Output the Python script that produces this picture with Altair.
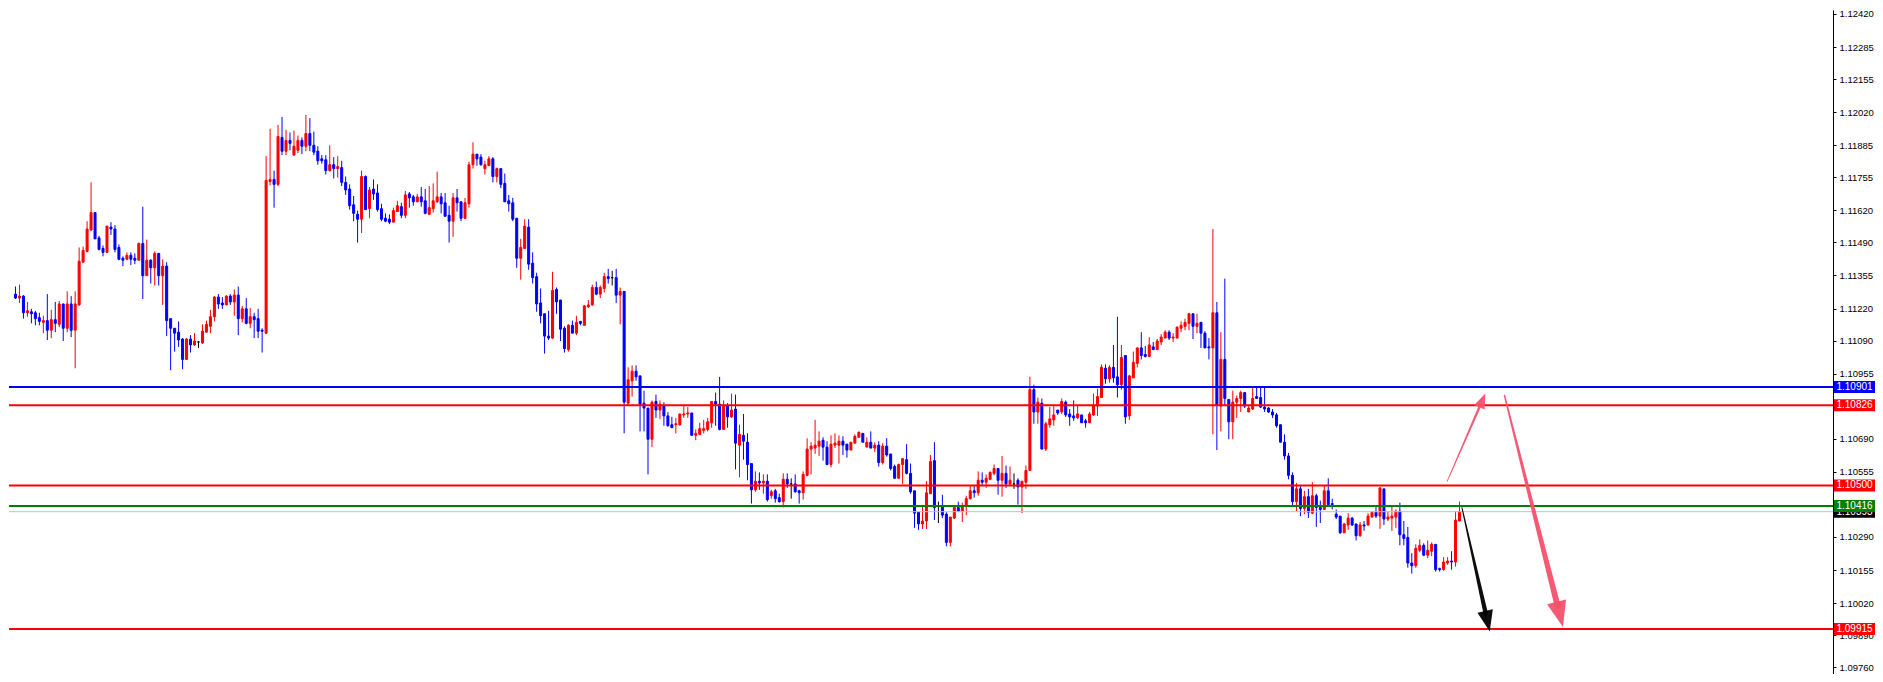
import math
import altair as alt
import numpy as np
import pandas as pd

# ---- candle data, prices in points (1e-5) ----
OPEN = [
111279, 111263, 111271, 111203, 111207, 111203, 111183, 111164, 111171, 111132,
111175, 111156, 111239, 111140, 111239, 111132, 111235, 111409, 111453, 111540,
111611, 111508, 111465, 111449, 111552, 111544, 111469, 111425, 111421, 111437,
111425, 111417, 111485, 111354, 111417, 111386, 111445, 111354, 111393, 111179,
111140, 111124, 111096, 111013, 111096, 111072, 111084, 111080, 111124, 111148,
111187, 111267, 111243, 111235, 111271, 111247, 111275, 111179, 111219, 111160,
111187, 111179, 111132, 111120, 111738, 111746, 111726, 111917, 111861, 111905,
111845, 111865, 111905, 111881, 111933, 111885, 111861, 111830, 111826, 111782,
111806, 111790, 111794, 111734, 111707, 111643, 111604, 111584, 111758, 111627,
111707, 111691, 111627, 111588, 111584, 111572, 111615, 111635, 111600, 111687,
111675, 111655, 111675, 111659, 111604, 111627, 111655, 111675, 111651, 111600,
111576, 111671, 111655, 111588, 111647, 111806, 111849, 111837, 111790, 111802,
111830, 111758, 111790, 111730, 111659, 111651, 111588, 111425, 111465, 111552,
111405, 111350, 111243, 111199, 111108, 111100, 111298, 111255, 111140, 111053,
111152, 111120, 111168, 111152, 111227, 111235, 111306, 111279, 111302, 111350,
111346, 111346, 111275, 111290, 110835, 110926, 110965, 110946, 110835, 110815,
110688, 110842, 110807, 110823, 110783, 110747, 110747, 110747, 110787, 110791,
110795, 110704, 110708, 110724, 110728, 110755, 110842, 110831, 110728, 110823,
110779, 110811, 110664, 110704, 110676, 110589, 110482, 110517, 110510, 110517,
110458, 110478, 110450, 110434, 110525, 110506, 110506, 110478, 110470, 110541,
110648, 110652, 110660, 110684, 110656, 110585, 110664, 110664, 110680, 110668,
110644, 110672, 110696, 110712, 110656, 110676, 110652, 110664, 110593, 110660,
110628, 110577, 110529, 110585, 110605, 110549, 110478, 110391, 110343, 110355,
110466, 110601, 110414, 110418, 110383, 110268, 110367, 110410, 110395, 110418,
110446, 110478, 110470, 110521, 110513, 110525, 110549, 110569, 110521, 110549,
110506, 110506, 110521, 110494, 110513, 110561, 110890, 110799, 110835, 110648,
110747, 110767, 110807, 110799, 110839, 110791, 110783, 110775, 110787, 110763,
110755, 110787, 110823, 110858, 110977, 110934, 110981, 110942, 110910, 111029,
110783, 110938, 110997, 111060, 111033, 111025, 111064, 111053, 111084, 111100,
111124, 111100, 111100, 111140, 111148, 111160, 111199, 111148, 111164, 111120,
111064, 111060, 111203, 110823, 111013, 110850, 110759, 110839, 110854, 110878,
110799, 110811, 110862, 110858, 110819, 110815, 110799, 110787, 110747, 110676,
110620, 110541, 110434, 110486, 110406, 110454, 110387, 110458, 110410, 110402,
110478, 110426, 110383, 110375, 110307, 110339, 110367, 110343, 110295, 110339,
110339, 110371, 110391, 110375, 110486, 110363, 110367, 110371, 110395, 110299,
110288, 110184, 110173, 110236, 110256, 110216, 110232, 110260, 110161, 110157,
110184, 110192, 110188, 110355,
]

HIGH = [
111310, 111318, 111275, 111247, 111219, 111211, 111203, 111191, 111279, 111215,
111247, 111251, 111239, 111290, 111271, 111290, 111469, 111473, 111576, 111734,
111611, 111516, 111477, 111556, 111572, 111560, 111481, 111433, 111449, 111449,
111445, 111489, 111635, 111501, 111421, 111453, 111445, 111421, 111409, 111179,
111140, 111168, 111100, 111100, 111112, 111120, 111088, 111156, 111171, 111215,
111271, 111279, 111267, 111275, 111279, 111298, 111310, 111231, 111263, 111223,
111203, 111219, 111140, 111841, 111952, 111782, 111968, 112000, 111948, 111937,
111945, 111925, 111917, 112008, 111996, 111941, 111881, 111845, 111845, 111885,
111837, 111841, 111822, 111758, 111726, 111679, 111619, 111782, 111762, 111715,
111746, 111726, 111647, 111608, 111604, 111631, 111659, 111651, 111699, 111695,
111683, 111687, 111715, 111707, 111719, 111730, 111778, 111691, 111691, 111639,
111691, 111707, 111655, 111671, 111818, 111897, 111849, 111849, 111822, 111841,
111837, 111794, 111790, 111770, 111683, 111671, 111588, 111504, 111584, 111584,
111449, 111366, 111302, 111199, 111211, 111370, 111306, 111255, 111148, 111156,
111171, 111191, 111168, 111235, 111255, 111318, 111330, 111314, 111366, 111382,
111374, 111382, 111306, 111290, 110981, 110989, 110989, 110946, 110886, 110815,
110846, 110870, 110846, 110839, 110799, 110779, 110775, 110791, 110823, 110819,
110795, 110728, 110755, 110767, 110775, 110842, 110878, 110942, 110846, 110835,
110874, 110870, 110747, 110791, 110712, 110589, 110557, 110553, 110545, 110545,
110482, 110486, 110466, 110549, 110549, 110529, 110545, 110482, 110557, 110692,
110676, 110767, 110720, 110696, 110680, 110704, 110712, 110704, 110700, 110668,
110676, 110708, 110720, 110712, 110696, 110720, 110676, 110680, 110672, 110692,
110628, 110585, 110589, 110609, 110668, 110589, 110478, 110391, 110414, 110517,
110624, 110676, 110434, 110462, 110391, 110371, 110410, 110434, 110430, 110458,
110498, 110498, 110557, 110553, 110545, 110557, 110585, 110569, 110620, 110581,
110577, 110549, 110529, 110517, 110581, 110942, 110910, 110858, 110854, 110759,
110819, 110823, 110807, 110854, 110846, 110811, 110846, 110823, 110787, 110771,
110799, 110874, 110894, 110993, 110993, 110989, 111072, 111187, 111072, 111029,
110950, 111045, 111060, 111124, 111068, 111104, 111084, 111096, 111116, 111132,
111132, 111120, 111148, 111168, 111179, 111203, 111199, 111199, 111164, 111128,
111100, 111544, 111247, 111124, 111342, 110850, 110886, 110866, 110886, 110878,
110827, 110902, 110902, 110902, 110902, 110819, 110811, 110795, 110747, 110708,
110632, 110553, 110510, 110502, 110478, 110486, 110513, 110466, 110438, 110498,
110529, 110446, 110402, 110375, 110347, 110387, 110371, 110343, 110351, 110355,
110387, 110395, 110414, 110490, 110486, 110395, 110414, 110402, 110430, 110355,
110331, 110224, 110260, 110280, 110264, 110276, 110268, 110260, 110165, 110208,
110208, 110232, 110395, 110434,
]

LOW = [
111259, 111243, 111179, 111187, 111160, 111152, 111152, 111120, 111092, 111100,
111124, 111144, 111088, 111124, 111104, 110977, 111231, 111409, 111449, 111536,
111504, 111457, 111433, 111449, 111520, 111449, 111417, 111393, 111417, 111397,
111401, 111417, 111259, 111354, 111322, 111314, 111314, 111235, 111108, 110969,
111045, 111064, 110973, 111013, 111041, 111068, 111060, 111076, 111124, 111120,
111168, 111219, 111219, 111235, 111235, 111191, 111112, 111164, 111156, 111140,
111100, 111100, 111041, 111116, 111722, 111631, 111719, 111845, 111845, 111865,
111845, 111853, 111849, 111861, 111861, 111845, 111806, 111810, 111766, 111778,
111750, 111754, 111719, 111683, 111623, 111576, 111489, 111528, 111623, 111588,
111663, 111615, 111576, 111572, 111564, 111572, 111615, 111588, 111588, 111631,
111639, 111655, 111635, 111604, 111604, 111611, 111651, 111608, 111596, 111489,
111512, 111615, 111576, 111584, 111631, 111790, 111802, 111802, 111766, 111802,
111734, 111734, 111711, 111655, 111615, 111576, 111386, 111338, 111465, 111378,
111322, 111207, 111160, 111037, 111092, 111096, 111199, 111088, 111041, 111045,
111120, 111112, 111152, 111152, 111223, 111231, 111275, 111263, 111286, 111322,
111314, 111243, 111156, 110712, 110823, 110862, 110926, 110720, 110720, 110545,
110656, 110775, 110771, 110743, 110739, 110735, 110712, 110743, 110775, 110775,
110704, 110684, 110704, 110712, 110720, 110735, 110743, 110724, 110728, 110735,
110775, 110565, 110533, 110605, 110521, 110426, 110474, 110482, 110466, 110434,
110446, 110430, 110430, 110410, 110490, 110446, 110470, 110426, 110442, 110537,
110545, 110628, 110620, 110601, 110585, 110573, 110652, 110589, 110624, 110613,
110644, 110672, 110696, 110676, 110656, 110652, 110636, 110577, 110585, 110617,
110561, 110529, 110529, 110506, 110545, 110466, 110327, 110319, 110323, 110323,
110466, 110359, 110347, 110367, 110252, 110252, 110363, 110395, 110351, 110379,
110442, 110450, 110458, 110502, 110490, 110521, 110541, 110462, 110454, 110490,
110498, 110486, 110422, 110387, 110486, 110561, 110751, 110751, 110648, 110640,
110735, 110743, 110787, 110791, 110779, 110743, 110763, 110771, 110755, 110735,
110755, 110783, 110783, 110858, 110914, 110918, 110918, 110858, 110890, 110751,
110767, 110938, 110981, 111013, 111021, 111025, 111053, 111053, 111072, 111100,
111092, 111084, 111100, 111124, 111132, 111132, 111096, 111120, 111060, 111060,
111013, 110708, 110644, 110720, 110823, 110688, 110688, 110775, 110799, 110815,
110799, 110807, 110854, 110815, 110799, 110795, 110775, 110735, 110676, 110605,
110525, 110414, 110395, 110375, 110383, 110367, 110383, 110331, 110347, 110402,
110418, 110402, 110363, 110303, 110307, 110319, 110335, 110276, 110291, 110315,
110335, 110371, 110367, 110323, 110339, 110355, 110315, 110327, 110256, 110256,
110165, 110141, 110165, 110228, 110212, 110204, 110212, 110149, 110149, 110153,
110177, 110157, 110169, 110355,
]

CLOSE = [
111263, 111271, 111203, 111211, 111199, 111179, 111168, 111171, 111132, 111175,
111160, 111239, 111140, 111239, 111132, 111239, 111413, 111457, 111544, 111611,
111504, 111461, 111449, 111556, 111544, 111461, 111421, 111417, 111437, 111421,
111417, 111485, 111354, 111417, 111386, 111445, 111354, 111393, 111171, 111140,
111120, 111092, 111013, 111096, 111072, 111088, 111084, 111128, 111156, 111187,
111267, 111239, 111235, 111271, 111247, 111275, 111179, 111219, 111160, 111187,
111175, 111128, 111128, 111742, 111746, 111726, 111921, 111861, 111905, 111893,
111881, 111905, 111881, 111933, 111885, 111857, 111822, 111822, 111782, 111806,
111790, 111798, 111734, 111703, 111639, 111608, 111584, 111758, 111623, 111703,
111687, 111623, 111584, 111576, 111572, 111619, 111639, 111600, 111683, 111671,
111655, 111675, 111655, 111608, 111631, 111659, 111675, 111647, 111596, 111576,
111671, 111651, 111588, 111651, 111806, 111849, 111830, 111806, 111806, 111830,
111758, 111790, 111726, 111655, 111647, 111584, 111425, 111469, 111556, 111401,
111346, 111239, 111191, 111108, 111100, 111294, 111247, 111136, 111057, 111152,
111120, 111164, 111160, 111231, 111235, 111306, 111279, 111306, 111350, 111342,
111346, 111275, 111290, 110839, 110930, 110965, 110942, 110831, 110815, 110688,
110839, 110807, 110831, 110783, 110743, 110735, 110751, 110791, 110791, 110795,
110704, 110712, 110731, 110731, 110759, 110842, 110831, 110728, 110827, 110779,
110807, 110672, 110708, 110680, 110585, 110482, 110517, 110510, 110517, 110442,
110474, 110446, 110434, 110525, 110506, 110506, 110474, 110470, 110545, 110648,
110660, 110664, 110680, 110656, 110585, 110668, 110672, 110680, 110664, 110644,
110676, 110700, 110716, 110676, 110676, 110652, 110664, 110593, 110660, 110624,
110569, 110529, 110585, 110609, 110549, 110474, 110387, 110343, 110355, 110470,
110597, 110410, 110414, 110379, 110268, 110371, 110410, 110395, 110418, 110446,
110478, 110470, 110521, 110513, 110529, 110553, 110569, 110521, 110549, 110506,
110521, 110506, 110494, 110517, 110561, 110890, 110799, 110839, 110648, 110751,
110771, 110787, 110795, 110842, 110787, 110779, 110775, 110791, 110755, 110755,
110791, 110827, 110862, 110981, 110934, 110981, 110938, 110910, 111021, 110779,
110946, 111001, 111060, 111029, 111025, 111072, 111053, 111088, 111104, 111124,
111100, 111104, 111144, 111152, 111164, 111199, 111148, 111160, 111120, 111060,
111060, 111203, 110827, 111013, 110854, 110759, 110839, 110854, 110878, 110823,
110815, 110854, 110854, 110819, 110811, 110799, 110787, 110743, 110676, 110620,
110541, 110434, 110486, 110406, 110454, 110391, 110458, 110410, 110402, 110478,
110422, 110422, 110371, 110307, 110343, 110367, 110339, 110295, 110339, 110335,
110375, 110391, 110375, 110490, 110363, 110371, 110375, 110395, 110299, 110284,
110184, 110173, 110244, 110256, 110216, 110236, 110260, 110157, 110157, 110188,
110192, 110188, 110359, 110395,
]

# ---- price axis tick labels (as printed on the reference) ----
PRICE_TICKS = [1.12420, 1.12285, 1.12155, 1.12020, 1.11885, 1.11755, 1.11620,
               1.11490, 1.11355, 1.11220, 1.11090, 1.10955, 1.10820, 1.10690,
               1.10555, 1.10420, 1.10290, 1.10155, 1.10020, 1.09890, 1.09760]

# ---- horizontal levels ----
LEVEL_PRICES = [1.10901, 1.10826, 1.10500, 1.10416, 1.09915]
LEVEL_COLORS = ["#0000FF", "#FF0000", "#FF0000", "#008000", "#FF0000"]
BID_PRICE = 1.10393

# ---- drawn arrows (bar index, price) ----
ARROW_X0 = [359.9, 374.3, 363.6]
ARROW_P0 = [1.10517, 1.10866, 1.10410]
ARROW_X1 = [369.5, 389.0, 370.6]
ARROW_P1 = [1.10874, 1.09923, 1.09905]
ARROW_COLORS = ["#F4506B", "#F4506B", "#000000"]

# ---- styles / layout ----
ARROW_W0 = [0.8, 1.5, 1.0]
ARROW_W1 = [2.5, 6.0, 4.5]
ARROW_HEAD = [15, 26, 21]

W, H = 1824, 664
BAR_STEP = 4.0
X_DOMAIN = [-0.375, W / BAR_STEP - 0.375]
Y_DOMAIN = [1.09732, 1.12436]
KX = W / (X_DOMAIN[1] - X_DOMAIN[0])
KY = H / (Y_DOMAIN[1] - Y_DOMAIN[0])
FONT = "Liberation Sans"
AXIS_FONT_SIZE = 9.5
BOX_FONT_SIZE = 10

o = np.array(OPEN) / 1e5
h = np.array(HIGH) / 1e5
l = np.array(LOW) / 1e5
c = np.array(CLOSE) / 1e5
n = len(o)
dirs = np.where(c > o, "up", np.where(c < o, "down", "doji"))
candles = pd.DataFrame({"i": np.arange(n), "open": o, "high": h, "low": l,
                        "close": c, "dir": dirs})

cscale = alt.Scale(domain=["up", "down", "doji"], range=["#FF0000", "#0000FF", "#000000"])
xenc = alt.X("i:Q", scale=alt.Scale(domain=X_DOMAIN, nice=False, zero=False), axis=None)
yscale = alt.Scale(domain=Y_DOMAIN, nice=False, zero=False)
yaxis = alt.Axis(orient="right", values=PRICE_TICKS, format=".5f", grid=False, title=None,
                 domainColor="#000000", domainWidth=1, tickColor="#000000", tickSize=3,
                 labelColor="#000000", labelFont=FONT, labelFontSize=AXIS_FONT_SIZE,
                 labelPadding=3, labelOverlap=False, labelFlush=False)

wicks = alt.Chart(candles).mark_rule(strokeWidth=1).encode(
    x=xenc,
    y=alt.Y("low:Q", scale=yscale, axis=yaxis),
    y2="high:Q",
    color=alt.Color("dir:N", scale=cscale, legend=None),
)
bodies = alt.Chart(candles).mark_bar(width=2, strokeWidth=1).encode(
    x=xenc,
    y=alt.Y("open:Q", scale=yscale, axis=yaxis),
    y2="close:Q",
    color=alt.Color("dir:N", scale=cscale, legend=None),
    stroke=alt.Stroke("dir:N", scale=cscale, legend=None),
)

levels = pd.DataFrame({"price": LEVEL_PRICES, "col": LEVEL_COLORS,
                       "label": [f"{p:.5f}" for p in LEVEL_PRICES]})
bid = pd.DataFrame({"price": [BID_PRICE], "col": ["#000000"], "label": [f"{BID_PRICE:.5f}"]})

bid_line = alt.Chart(bid).mark_rule(strokeWidth=1, color="#C0C0C0").encode(
    y=alt.Y("price:Q", scale=yscale, axis=yaxis))
level_lines = alt.Chart(levels).mark_rule(strokeWidth=2).encode(
    y=alt.Y("price:Q", scale=yscale, axis=yaxis),
    color=alt.Color("col:N", scale=None))

BOX_X = W + 21.5


def box_layers(df):
    box = alt.Chart(df).mark_tick(orient="horizontal", size=41, thickness=12, opacity=1).encode(
        x=alt.value(BOX_X),
        y=alt.Y("price:Q", scale=yscale, axis=yaxis),
        color=alt.Color("col:N", scale=None))
    txt = alt.Chart(df).mark_text(align="center", baseline="middle", color="#FFFFFF",
                                  font=FONT, fontSize=BOX_FONT_SIZE).encode(
        x=alt.value(BOX_X),
        y=alt.Y("price:Q", scale=yscale, axis=yaxis),
        text="label:N")
    return [box, txt]


# arrows
trail_rows, head_rows = [], []
for k in range(len(ARROW_X0)):
    dx = (ARROW_X1[k] - ARROW_X0[k]) * KX
    dy = -(ARROW_P1[k] - ARROW_P0[k]) * KY
    ln = math.hypot(dx, dy)
    ux, uy = dx / ln, dy / ln
    back = ARROW_HEAD[k] * 0.85
    xe = ARROW_X1[k] - ux * back / KX
    pe = ARROW_P1[k] + uy * back / KY
    trail_rows.append(dict(a=k, o=0, i=ARROW_X0[k], price=ARROW_P0[k], w=ARROW_W0[k], col=ARROW_COLORS[k]))
    trail_rows.append(dict(a=k, o=1, i=xe, price=pe, w=ARROW_W1[k], col=ARROW_COLORS[k]))
    ang = math.degrees(math.atan2(ux, -uy)) % 360
    head_rows.append(dict(i=ARROW_X1[k], price=ARROW_P1[k], ang=ang, s=ARROW_HEAD[k] ** 2,
                          col=ARROW_COLORS[k]))
trails_df = pd.DataFrame(trail_rows)
heads_df = pd.DataFrame(head_rows)

trails = alt.Chart(trails_df).mark_trail(opacity=0.95).encode(
    x=xenc,
    y=alt.Y("price:Q", scale=yscale, axis=yaxis),
    size=alt.Size("w:Q", scale=None, legend=None),
    detail="a:N",
    order="o:Q",
    color=alt.Color("col:N", scale=None),
)
heads = alt.Chart(heads_df).mark_point(
    shape="M0,0 L0.75,2 L-0.75,2 Z", filled=True, opacity=0.95, strokeWidth=0).encode(
    x=xenc,
    y=alt.Y("price:Q", scale=yscale, axis=yaxis),
    angle=alt.Angle("ang:Q", scale=None),
    size=alt.Size("s:Q", scale=None, legend=None),
    color=alt.Color("col:N", scale=None),
)

chart = alt.layer(
    wicks, bodies, bid_line, level_lines, trails, heads,
    *box_layers(bid), *box_layers(levels),
).properties(width=W, height=H, padding=0, background="#FFFFFF"
).configure_view(stroke=None)

chart.save("out.html", embed_options={"renderer": "svg", "actions": False})
